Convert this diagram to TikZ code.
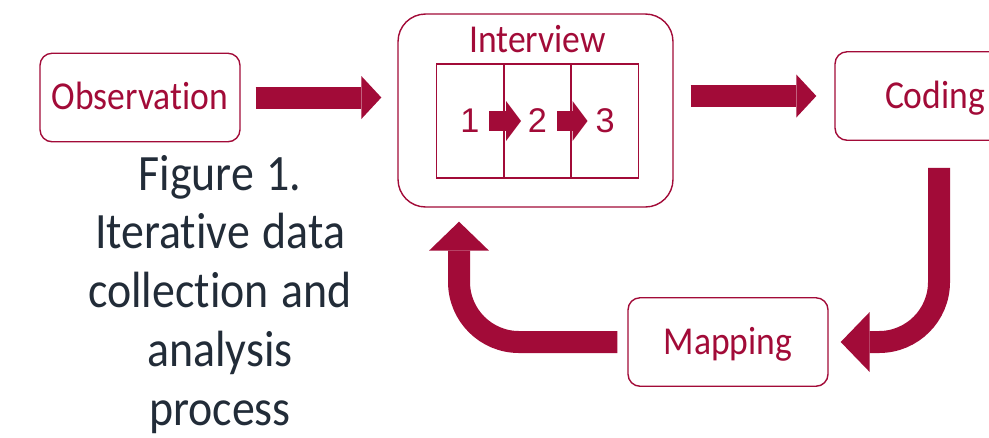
\documentclass[tikz,border=0pt]{standalone}
\usepackage{fontspec}
\setmainfont{Carlito}[FakeStretch=0.9, Ligatures=NoCommon]
\newfontfamily\digitfont{Liberation Sans}
\usetikzlibrary{arrows.meta, positioning}
\definecolor{crimson}{HTML}{A20B38}
\definecolor{slate}{RGB}{34,44,56}

\begin{document}
\begin{tikzpicture}[x=0.02cm, y=-0.02cm,
    label box/.style={draw=crimson, line width=0.8pt, rounded corners=0.24cm,
      minimum width=4cm, minimum height=1.77cm, text=crimson,
      font=\fontsize{22.5}{27}\selectfont, text height=14.2pt, text depth=0pt},
    cell/.style={draw=crimson, line width=0.6pt, minimum width=1.33cm,
      minimum height=2.28cm, text=crimson, font=\digitfont\fontsize{19.5}{23}\selectfont},
    block arrow/.style={draw=crimson, line width=0.44cm,
      -{Triangle[length=0.4cm, width=0.86cm, line width=0pt]}},
    bent arrow/.style={block arrow, rounded corners=1.2cm,
      -{Triangle[length=0.58cm, width=1.2cm, line width=0pt]}},
    small arrow/.style={draw=crimson, line width=0.4cm,
      -{Triangle[length=0.3cm, width=0.8cm, line width=0pt]}}]

  \useasboundingbox (0,0) rectangle (989,437);
  \clip (0,0) rectangle (989,437);

  % stages
  \node[label box] (obs) at (140,97.5) {Observation};
  \node[label box] (coding) at (935,96) {Coding};
  \node[label box] (mapping) at (728,342) {Mapping};

  % interview with its three rounds
  \node[draw=crimson, line width=0.8pt, rounded corners=0.55cm,
    minimum width=5.5cm, minimum height=3.86cm] (interview) at (535.5,110.5) {};
  \node[cell] (c2) at (537.5,121) {2};
  \node[cell, left=0pt of c2] (c1) {1};
  \node[cell, right=0pt of c2] (c3) {3};
  \node[above=0.22cm of c2, inner sep=0pt, text=crimson,
    font=\fontsize{22.5}{27}\selectfont, text height=14.2pt, text depth=0pt] (title) {Interview};
  \draw[small arrow] ([xshift=0.39cm]c1.center) -- ([xshift=-0.33cm]c2.center);
  \draw[small arrow] ([xshift=0.39cm]c2.center) -- ([xshift=-0.35cm]c3.center);

  % flow between stages
  \draw[block arrow, shorten <=0.3cm, shorten >=0.32cm] (obs.east) -- (obs.east -| interview.west);
  \draw[block arrow, shorten <=0.34cm, shorten >=0.36cm] (interview.east |- coding.west) -- (coding.west);
  \draw[bent arrow, shorten <=0.54cm, shorten >=0.24cm] ([xshift=0.08cm]coding.south) |- (mapping.east);
  \draw[bent arrow, shorten <=0.2cm, shorten >=0.28cm] (mapping.west) -| ([xshift=-1.53cm]interview.south);

  \node[anchor=base, text width=6.5cm, align=center, text=slate,
    font=\fontsize{29}{33.5}\selectfont] (caption) at (220,190)
    {\spaceskip=0.25em\relax Figure 1.\\ Iterative data\\ collection and\\ analysis\\ process};
\end{tikzpicture}
\end{document}
